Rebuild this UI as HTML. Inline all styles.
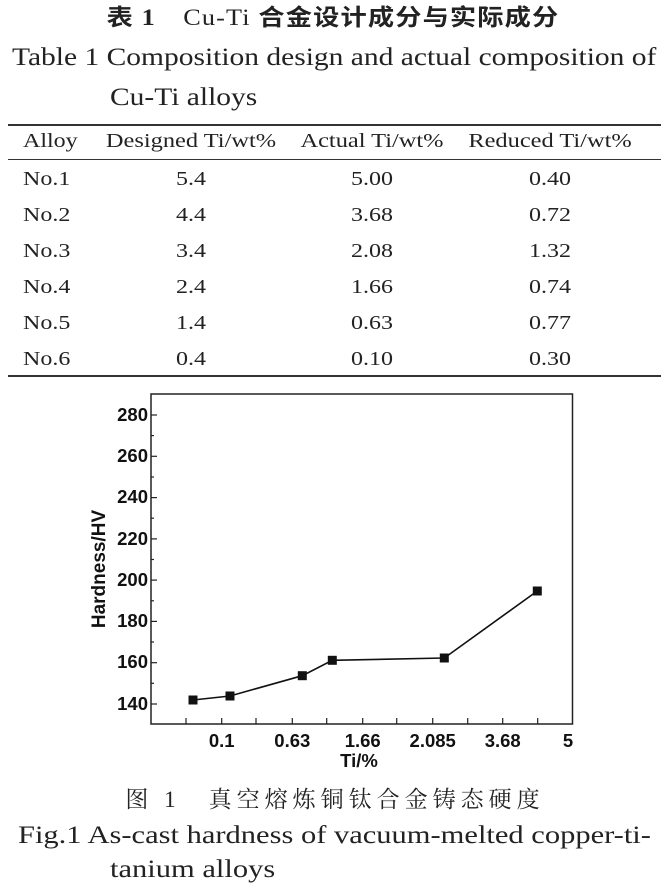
<!DOCTYPE html>
<html><head><meta charset="utf-8"><style>
body{margin:0;width:669px;height:891px;background:#fff;position:relative;overflow:hidden;font-family:"Liberation Serif","Noto Serif CJK SC",serif;color:#222}
.t{position:absolute;white-space:nowrap;line-height:1;transform-origin:0 0;transform:scaleX(1.2)}
.c{position:absolute;white-space:nowrap;line-height:1;transform:translateX(-50%) scaleX(1.2)}
.r{position:absolute;left:8px;right:8px;background:#333}
</style></head><body>
<div class="c" style="left:333px;top:6px;font-size:23px;font-weight:bold;font-family:'Liberation Serif','Noto Sans CJK SC',sans-serif;transform:translateX(-50%) scaleX(1.14);letter-spacing:1px">表 1　<span style="font-weight:normal;font-family:'Liberation Serif',serif">Cu-Ti</span> 合金设计成分与实际成分</div>
<div class="t" style="left:12px;top:45px;font-size:25px;transform:scaleX(1.18)">Table 1 Composition design and actual composition of</div>
<div class="t" style="left:110px;top:85px;font-size:25px;transform:scaleX(1.18)">Cu-Ti alloys</div>
<div class="r" style="top:124px;height:2px"></div>
<div class="r" style="top:159px;height:1px"></div>
<div class="r" style="top:375px;height:2px"></div>
<div class="t" style="left:23px;top:131px;font-size:20px">Alloy</div>
<div class="c" style="left:191px;top:131px;font-size:20px;transform:translateX(-50%) scaleX(1.22)">Designed Ti/wt%</div>
<div class="c" style="left:372px;top:131px;font-size:20px;transform:translateX(-50%) scaleX(1.22)">Actual Ti/wt%</div>
<div class="c" style="left:550px;top:131px;font-size:20px;transform:translateX(-50%) scaleX(1.22)">Reduced Ti/wt%</div>
<div style="position:absolute;top:169px;left:0;font-size:20px">
<div class="t" style="left:23px;top:0">No.1</div><div class="c" style="left:191px;top:0">5.4</div><div class="c" style="left:372px;top:0">5.00</div><div class="c" style="left:550px;top:0">0.40</div>
<div class="t" style="left:23px;top:36px">No.2</div><div class="c" style="left:191px;top:36px">4.4</div><div class="c" style="left:372px;top:36px">3.68</div><div class="c" style="left:550px;top:36px">0.72</div>
<div class="t" style="left:23px;top:72px">No.3</div><div class="c" style="left:191px;top:72px">3.4</div><div class="c" style="left:372px;top:72px">2.08</div><div class="c" style="left:550px;top:72px">1.32</div>
<div class="t" style="left:23px;top:108px">No.4</div><div class="c" style="left:191px;top:108px">2.4</div><div class="c" style="left:372px;top:108px">1.66</div><div class="c" style="left:550px;top:108px">0.74</div>
<div class="t" style="left:23px;top:144px">No.5</div><div class="c" style="left:191px;top:144px">1.4</div><div class="c" style="left:372px;top:144px">0.63</div><div class="c" style="left:550px;top:144px">0.77</div>
<div class="t" style="left:23px;top:180px">No.6</div><div class="c" style="left:191px;top:180px">0.4</div><div class="c" style="left:372px;top:180px">0.10</div><div class="c" style="left:550px;top:180px">0.30</div>
</div>
<svg style="position:absolute;left:0;top:0" width="669" height="891" font-family="Liberation Sans,sans-serif" font-weight="bold" font-size="18.5" fill="#111">
<rect x="151" y="394" width="421.5" height="330" fill="none" stroke="#222" stroke-width="1.5"/>
<g stroke="#222" stroke-width="1.2">
<line x1="151" y1="415" x2="157" y2="415"/><line x1="151" y1="456.3" x2="157" y2="456.3"/><line x1="151" y1="497.6" x2="157" y2="497.6"/><line x1="151" y1="538.9" x2="157" y2="538.9"/><line x1="151" y1="580.1" x2="157" y2="580.1"/><line x1="151" y1="621.4" x2="157" y2="621.4"/><line x1="151" y1="662.7" x2="157" y2="662.7"/><line x1="151" y1="704" x2="157" y2="704"/>
<line x1="151" y1="435.6" x2="154" y2="435.6"/><line x1="151" y1="477" x2="154" y2="477"/><line x1="151" y1="518.2" x2="154" y2="518.2"/><line x1="151" y1="559.5" x2="154" y2="559.5"/><line x1="151" y1="600.8" x2="154" y2="600.8"/><line x1="151" y1="642" x2="154" y2="642"/><line x1="151" y1="683.3" x2="154" y2="683.3"/>
<line x1="186" y1="724" x2="186" y2="718"/><line x1="221.7" y1="724" x2="221.7" y2="718"/><line x1="256" y1="724" x2="256" y2="718"/><line x1="292.3" y1="724" x2="292.3" y2="718"/><line x1="326.7" y1="724" x2="326.7" y2="718"/><line x1="362.7" y1="724" x2="362.7" y2="718"/><line x1="396.7" y1="724" x2="396.7" y2="718"/><line x1="432.7" y1="724" x2="432.7" y2="718"/><line x1="467.7" y1="724" x2="467.7" y2="718"/><line x1="502.7" y1="724" x2="502.7" y2="718"/><line x1="537.7" y1="724" x2="537.7" y2="718"/>
</g>
<g text-anchor="end"><text x="148" y="421">280</text><text x="148" y="462">260</text><text x="148" y="503">240</text><text x="148" y="545">220</text><text x="148" y="586">200</text><text x="148" y="627">180</text><text x="148" y="668">160</text><text x="148" y="710">140</text></g>
<g text-anchor="middle"><text x="221.7" y="747">0.1</text><text x="292.3" y="747">0.63</text><text x="362.7" y="747">1.66</text><text x="432.7" y="747">2.085</text><text x="502.7" y="747">3.68</text><text x="568" y="747">5</text><text x="359" y="767">Ti/%</text>
<text transform="translate(105,569) rotate(-90)" font-size="19">Hardness/HV</text></g>
<polyline points="193,700 230,696 302.3,675.7 332.3,660.3 444.3,658 537.3,591" fill="none" stroke="#111" stroke-width="1.6"/>
<g fill="#111"><rect x="188.5" y="695.5" width="9" height="9"/><rect x="225.5" y="691.5" width="9" height="9"/><rect x="297.8" y="671.2" width="9" height="9"/><rect x="327.8" y="655.8" width="9" height="9"/><rect x="439.8" y="653.5" width="9" height="9"/><rect x="532.8" y="586.5" width="9" height="9"/></g>
</svg>
<div class="c" style="left:335px;top:788px;font-size:23px;letter-spacing:5px;transform:translateX(-50%);font-family:'Liberation Serif','Noto Serif CJK SC',serif">图 1　真空熔炼铜钛合金铸态硬度</div>
<div class="t" style="left:18px;top:823px;font-size:25px;transform:scaleX(1.22)">Fig.1 As-cast hardness of vacuum-melted copper-ti-</div>
<div class="t" style="left:110px;top:857px;font-size:25px;transform:scaleX(1.22)">tanium alloys</div>
</body></html>
